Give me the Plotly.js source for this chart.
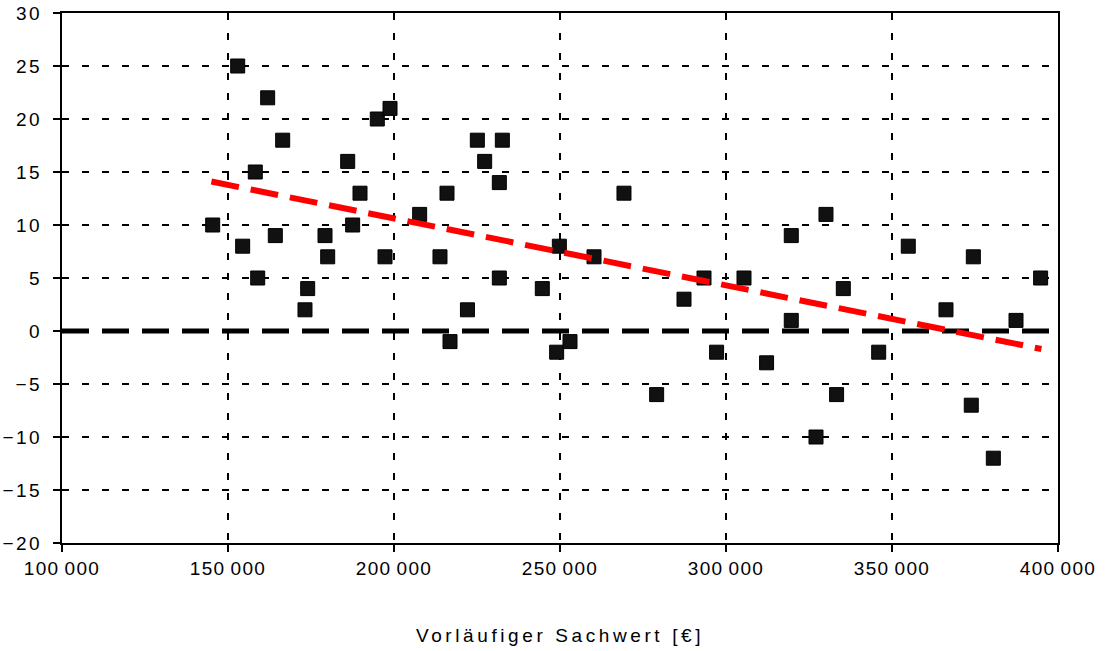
<!DOCTYPE html>
<html>
<head>
<meta charset="utf-8">
<script src="https://cdn.plot.ly/plotly-3.0.1.min.js"></script>
<style>
  html, body { margin: 0; padding: 0; background: #fff; }
  #chart { width: 1117px; height: 651px; }
  .xtick text { letter-spacing: 1.3px; }
  .ytick text { letter-spacing: 2.5px; }
  .g-xtitle text { letter-spacing: 3.6px; }
</style>
</head>
<body>
<div id="chart"></div>
<script>
// Data
const sachwert = [145390, 152920, 154420, 158220, 158950, 161950, 164250, 166470, 173190, 174000,
                  179220, 180030, 186050, 187550, 189760, 194970, 197290, 198800, 207730, 213850,
                  215960, 216870, 222120, 225100, 227310, 231730, 231730, 232630, 244670, 248990,
                  249800, 253010, 260240, 269270, 279110, 287350, 293370, 297170, 305420, 312220,
                  319660, 319660, 327110, 330110, 333310, 335330, 345990, 354900, 366260, 373880,
                  374500, 380520, 387350, 394770];
const abweichung = [10, 25, 8, 15, 5, 22, 9, 18, 2, 4,
                    9, 7, 16, 10, 13, 20, 7, 21, 11, 7,
                    13, -1, 2, 18, 16, 14, 5, 18, 4, -2,
                    8, -1, 7, 13, -6, 3, 5, -2, 5, -3,
                    9, 1, -10, 11, -6, 4, -2, 8, 2, -7,
                    7, -12, 1, 5];
const trendX = [145000, 395000];
const trendY = [14.1, -1.7];
const zeroX = [100000, 400000];
const zeroY = [0, 0];
const xTickVals = [100000, 150000, 200000, 250000, 300000, 350000, 400000];
const xTickText = ["100\u2009000", "150\u2009000", "200\u2009000", "250\u2009000", "300\u2009000", "350\u2009000", "400\u2009000"];
const yTickVals = [-20, -15, -10, -5, 0, 5, 10, 15, 20, 25, 30];
const xTitle = "Vorläufiger Sachwert [€]";

const fontFam = '"Liberation Sans", Arial, sans-serif';

const traces = [
  {
    x: sachwert, y: abweichung, type: 'scatter', mode: 'markers',
    marker: { symbol: 'square', size: 14, color: '#111111', line: { color: '#000000', width: 1 } },
    hoverinfo: 'x+y', showlegend: false
  },
  {
    x: zeroX, y: zeroY, type: 'scatter', mode: 'lines',
    line: { color: '#000000', width: 5, dash: '27px,13px' },
    showlegend: false, hoverinfo: 'skip'
  },
  {
    x: trendX, y: trendY, type: 'scatter', mode: 'lines',
    line: { color: '#ff0000', width: 6, dash: '28px,12px' },
    showlegend: false, hoverinfo: 'skip'
  }
];

const layout = {
  width: 1117, height: 651,
  margin: { l: 62, r: 59, t: 13, b: 108 },
  paper_bgcolor: '#ffffff', plot_bgcolor: '#ffffff',
  font: { family: fontFam, size: 19, color: '#000000' },
  showlegend: false,
  xaxis: {
    range: [100000, 400000],
    tickmode: 'array', tickvals: xTickVals, ticktext: xTickText,
    showline: true, linecolor: '#000000', linewidth: 2, mirror: true,
    ticks: 'outside', ticklen: 7, tickwidth: 2, tickcolor: '#000000',
    showgrid: true, gridcolor: '#000000', gridwidth: 2, griddash: '7px,13px',
    zeroline: false,
    ticklabelstandoff: 0,
    tickfont: { family: fontFam, size: 19, color: '#000000' },
    title: { text: xTitle, font: { family: fontFam, size: 19, color: '#000000' }, standoff: 51 },
    automargin: false
  },
  yaxis: {
    range: [-20, 30],
    tickmode: 'array', tickvals: yTickVals,
    showline: true, linecolor: '#000000', linewidth: 2, mirror: true,
    ticks: 'outside', ticklen: 7, tickwidth: 2, tickcolor: '#000000',
    showgrid: true, gridcolor: '#000000', gridwidth: 2, griddash: '7px,13px',
    zeroline: false,
    ticklabelstandoff: 7,
    tickfont: { family: fontFam, size: 19, color: '#000000' },
    automargin: false
  }
};

Plotly.newPlot('chart', traces, layout, { displayModeBar: false, staticPlot: true });
</script>
</body>
</html>
